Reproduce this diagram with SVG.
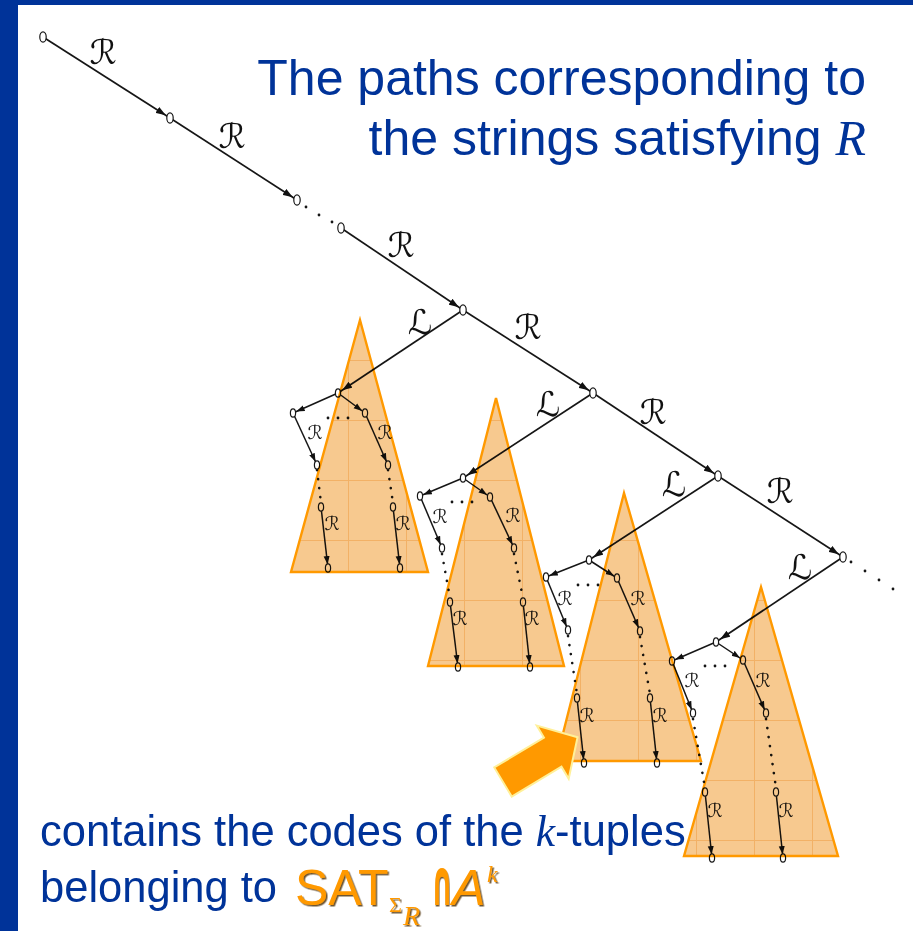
<svg xmlns="http://www.w3.org/2000/svg" width="913" height="931" viewBox="0 0 913 931">
<style>
.e{stroke:#161616;stroke-width:1.7;fill:none}
.es{stroke:#161616;stroke-width:1.5;fill:none}
.dot{stroke:#161616;stroke-width:2.6;stroke-linecap:round;stroke-dasharray:0.1 9;fill:none}
.n{fill:#fff;stroke:#161616;stroke-width:1.2}
.lb{font-family:"DejaVu Serif","DejaVu Sans",serif;font-size:34px;fill:#111;text-anchor:middle}
.ls{font-family:"DejaVu Serif","DejaVu Sans",serif;font-size:19px;fill:#222;text-anchor:middle}
.tri{fill:url(#grid);stroke:#FF9900;stroke-width:2.4;stroke-linejoin:miter;mix-blend-mode:multiply}
.blue{font-family:"Liberation Sans",Arial,sans-serif;fill:#003399}
.or{fill:#FF9900;filter:url(#sh)}
.pt{fill:#161616}
</style>
<defs>
<marker id="ah" markerUnits="userSpaceOnUse" markerWidth="16" markerHeight="8" refX="15" refY="4" orient="auto"><path d="M0,0.5 L10,4 L0,7.5 z" fill="#111"/></marker>
<marker id="as" markerUnits="userSpaceOnUse" markerWidth="13" markerHeight="7" refX="12" refY="3.5" orient="auto"><path d="M0,0.5 L8.5,3.5 L0,6.5 z" fill="#111"/></marker>
<pattern id="grid" patternUnits="userSpaceOnUse" x="0" y="0" width="58" height="60">
<rect width="58" height="60" fill="#F7C98F"/>
<path d="M0,0.5 H58 M0.5,0 V60" stroke="#EFA24A" stroke-width="1" opacity="0.6"/>
</pattern>
<filter id="sh" x="-10%" y="-10%" width="130%" height="130%">
<feDropShadow dx="1.5" dy="1.5" stdDeviation="0.4" flood-color="#4a2a00" flood-opacity="0.8"/>
</filter>
</defs>
<rect x="0" y="0" width="913" height="931" fill="#003399"/>
<rect x="18" y="5" width="895" height="926" fill="#fff"/>

<g id="connectors">
<!-- main chain -->
<line class="e" x1="43" y1="37" x2="170" y2="118" marker-end="url(#ah)"/>
<line class="e" x1="170" y1="118" x2="297" y2="200" marker-end="url(#ah)"/>
<line class="e" x1="341" y1="228" x2="463" y2="310" marker-end="url(#ah)"/>
<line class="e" x1="463" y1="310" x2="593" y2="393" marker-end="url(#ah)"/>
<line class="e" x1="593" y1="393" x2="718" y2="476" marker-end="url(#ah)"/>
<line class="e" x1="718" y1="476" x2="843" y2="557" marker-end="url(#ah)"/>
<!-- L edges -->
<line class="e" x1="463" y1="310" x2="338" y2="393" marker-end="url(#ah)"/>
<line class="e" x1="593" y1="393" x2="463" y2="478" marker-end="url(#ah)"/>
<line class="e" x1="718" y1="476" x2="589" y2="560" marker-end="url(#ah)"/>
<line class="e" x1="843" y1="557" x2="716" y2="642" marker-end="url(#ah)"/>
<!-- chain dots -->
<circle class="pt" cx="306" cy="207" r="1.4"/>
<circle class="pt" cx="319" cy="215" r="1.4"/>
<circle class="pt" cx="332" cy="222" r="1.4"/>
<circle class="pt" cx="851" cy="562" r="1.4"/>
<circle class="pt" cx="865" cy="571" r="1.4"/>
<circle class="pt" cx="879" cy="580" r="1.4"/>
<circle class="pt" cx="893" cy="589" r="1.4"/>
<!-- subtree 1 -->
<line class="es" x1="338" y1="393" x2="293" y2="413" marker-end="url(#as)"/>
<line class="es" x1="293" y1="413" x2="317" y2="465" marker-end="url(#as)"/>
<line class="dot" x1="317" y1="470" x2="321" y2="503"/>
<line class="es" x1="321" y1="507" x2="328" y2="568" marker-end="url(#as)"/>
<line class="es" x1="338" y1="393" x2="365" y2="413" marker-end="url(#as)"/>
<line class="es" x1="365" y1="413" x2="388" y2="465" marker-end="url(#as)"/>
<line class="dot" x1="388" y1="470" x2="393" y2="503"/>
<line class="es" x1="393" y1="507" x2="400" y2="568" marker-end="url(#as)"/>
<circle class="pt" cx="328" cy="418" r="1.4"/><circle class="pt" cx="338" cy="418" r="1.4"/><circle class="pt" cx="348" cy="418" r="1.4"/>
<!-- subtree 2 -->
<line class="es" x1="463" y1="478" x2="420" y2="496" marker-end="url(#as)"/>
<line class="es" x1="420" y1="496" x2="442" y2="548" marker-end="url(#as)"/>
<line class="dot" x1="442" y1="554" x2="450" y2="598"/>
<line class="es" x1="450" y1="602" x2="458" y2="667" marker-end="url(#as)"/>
<line class="es" x1="463" y1="478" x2="490" y2="497" marker-end="url(#as)"/>
<line class="es" x1="490" y1="497" x2="514" y2="548" marker-end="url(#as)"/>
<line class="dot" x1="514" y1="554" x2="523" y2="598"/>
<line class="es" x1="523" y1="602" x2="530" y2="667" marker-end="url(#as)"/>
<circle class="pt" cx="452" cy="502" r="1.4"/><circle class="pt" cx="462" cy="502" r="1.4"/><circle class="pt" cx="472" cy="502" r="1.4"/>
<!-- subtree 3 -->
<line class="es" x1="589" y1="560" x2="546" y2="577" marker-end="url(#as)"/>
<line class="es" x1="546" y1="577" x2="568" y2="630" marker-end="url(#as)"/>
<line class="dot" x1="568" y1="636" x2="577" y2="694"/>
<line class="es" x1="577" y1="698" x2="584" y2="763" marker-end="url(#as)"/>
<line class="es" x1="589" y1="560" x2="617" y2="578" marker-end="url(#as)"/>
<line class="es" x1="617" y1="578" x2="640" y2="631" marker-end="url(#as)"/>
<line class="dot" x1="640" y1="637" x2="650" y2="694"/>
<line class="es" x1="650" y1="698" x2="657" y2="763" marker-end="url(#as)"/>
<circle class="pt" cx="578" cy="585" r="1.4"/><circle class="pt" cx="588" cy="585" r="1.4"/><circle class="pt" cx="598" cy="585" r="1.4"/>
<!-- subtree 4 -->
<line class="es" x1="716" y1="642" x2="672" y2="661" marker-end="url(#as)"/>
<line class="es" x1="672" y1="661" x2="693" y2="713" marker-end="url(#as)"/>
<line class="dot" x1="693" y1="719" x2="705" y2="788"/>
<line class="es" x1="705" y1="792" x2="712" y2="858" marker-end="url(#as)"/>
<line class="es" x1="716" y1="642" x2="743" y2="660" marker-end="url(#as)"/>
<line class="es" x1="743" y1="660" x2="766" y2="713" marker-end="url(#as)"/>
<line class="dot" x1="766" y1="719" x2="776" y2="788"/>
<line class="es" x1="776" y1="792" x2="783" y2="858" marker-end="url(#as)"/>
<circle class="pt" cx="705" cy="666" r="1.4"/><circle class="pt" cx="715" cy="666" r="1.4"/><circle class="pt" cx="725" cy="666" r="1.4"/>
<!-- labels -->
<text class="lb" x="103" y="64">ℛ</text>
<text class="lb" x="232" y="148">ℛ</text>
<text class="lb" x="401" y="257">ℛ</text>
<text class="lb" x="528" y="339">ℛ</text>
<text class="lb" x="653" y="424">ℛ</text>
<text class="lb" x="780" y="503">ℛ</text>
<text class="lb" x="420" y="334">ℒ</text>
<text class="lb" x="548" y="416">ℒ</text>
<text class="lb" x="674" y="496">ℒ</text>
<text class="lb" x="800" y="579">ℒ</text>
<text class="ls" x="315" y="439">ℛ</text><text class="ls" x="385" y="439">ℛ</text>
<text class="ls" x="332" y="530">ℛ</text><text class="ls" x="403" y="530">ℛ</text>
<text class="ls" x="440" y="523">ℛ</text><text class="ls" x="513" y="522">ℛ</text>
<text class="ls" x="460" y="625">ℛ</text><text class="ls" x="532" y="625">ℛ</text>
<text class="ls" x="565" y="605">ℛ</text><text class="ls" x="638" y="605">ℛ</text>
<text class="ls" x="587" y="722">ℛ</text><text class="ls" x="660" y="722">ℛ</text>
<text class="ls" x="692" y="687">ℛ</text><text class="ls" x="763" y="687">ℛ</text>
<text class="ls" x="715" y="817">ℛ</text><text class="ls" x="786" y="817">ℛ</text>
</g>

<g id="chain-nodes">
<ellipse id="n0" class="n" cx="43" cy="37" rx="3.2" ry="5.2"/>
<ellipse id="n1" class="n" cx="170" cy="118" rx="3.2" ry="5.2"/>
<ellipse id="n2" class="n" cx="297" cy="200" rx="3.2" ry="5.2"/>
<ellipse id="n3" class="n" cx="341" cy="228" rx="3.2" ry="5.2"/>
<ellipse id="n4" class="n" cx="463" cy="310" rx="3.2" ry="5.2"/>
<ellipse id="n5" class="n" cx="593" cy="393" rx="3.2" ry="5.2"/>
<ellipse id="n6" class="n" cx="718" cy="476" rx="3.2" ry="5.2"/>
<ellipse id="n7" class="n" cx="843" cy="557" rx="3.2" ry="5.2"/>
</g>
<g id="subtree1-nodes">
<ellipse class="n" cx="338" cy="393" rx="2.6" ry="4.2"/><ellipse class="n" cx="293" cy="413" rx="2.6" ry="4.2"/>
<ellipse class="n" cx="317" cy="465" rx="2.6" ry="4.2"/><ellipse class="n" cx="321" cy="507" rx="2.6" ry="4.2"/>
<ellipse class="n" cx="328" cy="568" rx="2.6" ry="4.2"/><ellipse class="n" cx="365" cy="413" rx="2.6" ry="4.2"/>
<ellipse class="n" cx="388" cy="465" rx="2.6" ry="4.2"/><ellipse class="n" cx="393" cy="507" rx="2.6" ry="4.2"/>
<ellipse class="n" cx="400" cy="568" rx="2.6" ry="4.2"/>
</g>
<g id="subtree2-nodes">
<ellipse class="n" cx="463" cy="478" rx="2.6" ry="4.2"/><ellipse class="n" cx="420" cy="496" rx="2.6" ry="4.2"/>
<ellipse class="n" cx="442" cy="548" rx="2.6" ry="4.2"/><ellipse class="n" cx="450" cy="602" rx="2.6" ry="4.2"/>
<ellipse class="n" cx="458" cy="667" rx="2.6" ry="4.2"/><ellipse class="n" cx="490" cy="497" rx="2.6" ry="4.2"/>
<ellipse class="n" cx="514" cy="548" rx="2.6" ry="4.2"/><ellipse class="n" cx="523" cy="602" rx="2.6" ry="4.2"/>
<ellipse class="n" cx="530" cy="667" rx="2.6" ry="4.2"/>
</g>
<g id="subtree3-nodes">
<ellipse class="n" cx="589" cy="560" rx="2.6" ry="4.2"/><ellipse class="n" cx="546" cy="577" rx="2.6" ry="4.2"/>
<ellipse class="n" cx="568" cy="630" rx="2.6" ry="4.2"/><ellipse class="n" cx="577" cy="698" rx="2.6" ry="4.2"/>
<ellipse class="n" cx="584" cy="763" rx="2.6" ry="4.2"/><ellipse class="n" cx="617" cy="578" rx="2.6" ry="4.2"/>
<ellipse class="n" cx="640" cy="631" rx="2.6" ry="4.2"/><ellipse class="n" cx="650" cy="698" rx="2.6" ry="4.2"/>
<ellipse class="n" cx="657" cy="763" rx="2.6" ry="4.2"/>
</g>
<g id="subtree4-nodes">
<ellipse class="n" cx="716" cy="642" rx="2.6" ry="4.2"/><ellipse class="n" cx="672" cy="661" rx="2.6" ry="4.2"/>
<ellipse class="n" cx="693" cy="713" rx="2.6" ry="4.2"/><ellipse class="n" cx="705" cy="792" rx="2.6" ry="4.2"/>
<ellipse class="n" cx="712" cy="858" rx="2.6" ry="4.2"/><ellipse class="n" cx="743" cy="660" rx="2.6" ry="4.2"/>
<ellipse class="n" cx="766" cy="713" rx="2.6" ry="4.2"/><ellipse class="n" cx="776" cy="792" rx="2.6" ry="4.2"/>
<ellipse class="n" cx="783" cy="858" rx="2.6" ry="4.2"/>
</g>

<g id="triangle1"><polygon class="tri" points="360,320 428,572 291,572"/></g>
<g id="triangle2"><polygon class="tri" points="496,398 564,666 428,666"/></g>
<g id="triangle3"><polygon class="tri" points="624,493 701,761 556,761"/></g>
<g id="triangle4"><polygon class="tri" points="761,587 838,856 684,856"/></g>

<g id="pointer">
<path d="M0,-17 L58,-17 L58,-31 L87,0 L58,31 L58,17 L0,17 Z" transform="translate(503,782) rotate(-31)" fill="#FF9900" stroke="#FFF099" stroke-width="2" stroke-linejoin="miter"/>
</g>

<g id="title">
<text class="blue" x="866" y="95" font-size="50" text-anchor="end">The paths corresponding to</text>
<text class="blue" x="866" y="155" font-size="50" text-anchor="end">the strings satisfying <tspan font-family="'Liberation Serif',serif" font-style="italic">R</tspan></text>
</g>
<g id="caption">
<text class="blue" x="40" y="846" font-size="43.5">contains the codes of the <tspan font-family="'Liberation Serif',serif" font-style="italic">k</tspan>-tuples</text>
<text class="blue" x="40" y="902" font-size="43.5">belonging to</text>
<text class="or" font-family="'Liberation Sans',Arial,sans-serif"><tspan x="295" y="905" font-size="50">SAT</tspan><tspan x="389" y="912" font-size="22" font-family="'Liberation Serif',serif">Σ</tspan><tspan x="403" y="925" font-size="28" font-family="'Liberation Serif',serif" font-style="italic">R</tspan></text>
<text class="or" font-family="'DejaVu Sans',sans-serif" font-weight="bold" font-size="64" transform="translate(431,905) scale(0.42,1)">∩</text>
<text class="or" font-family="'Liberation Sans',Arial,sans-serif"><tspan x="452" y="905" font-size="50" font-style="italic">A</tspan><tspan x="487" y="882" font-size="24" font-family="'Liberation Serif',serif" font-style="italic">k</tspan></text>
</g>
</svg>
